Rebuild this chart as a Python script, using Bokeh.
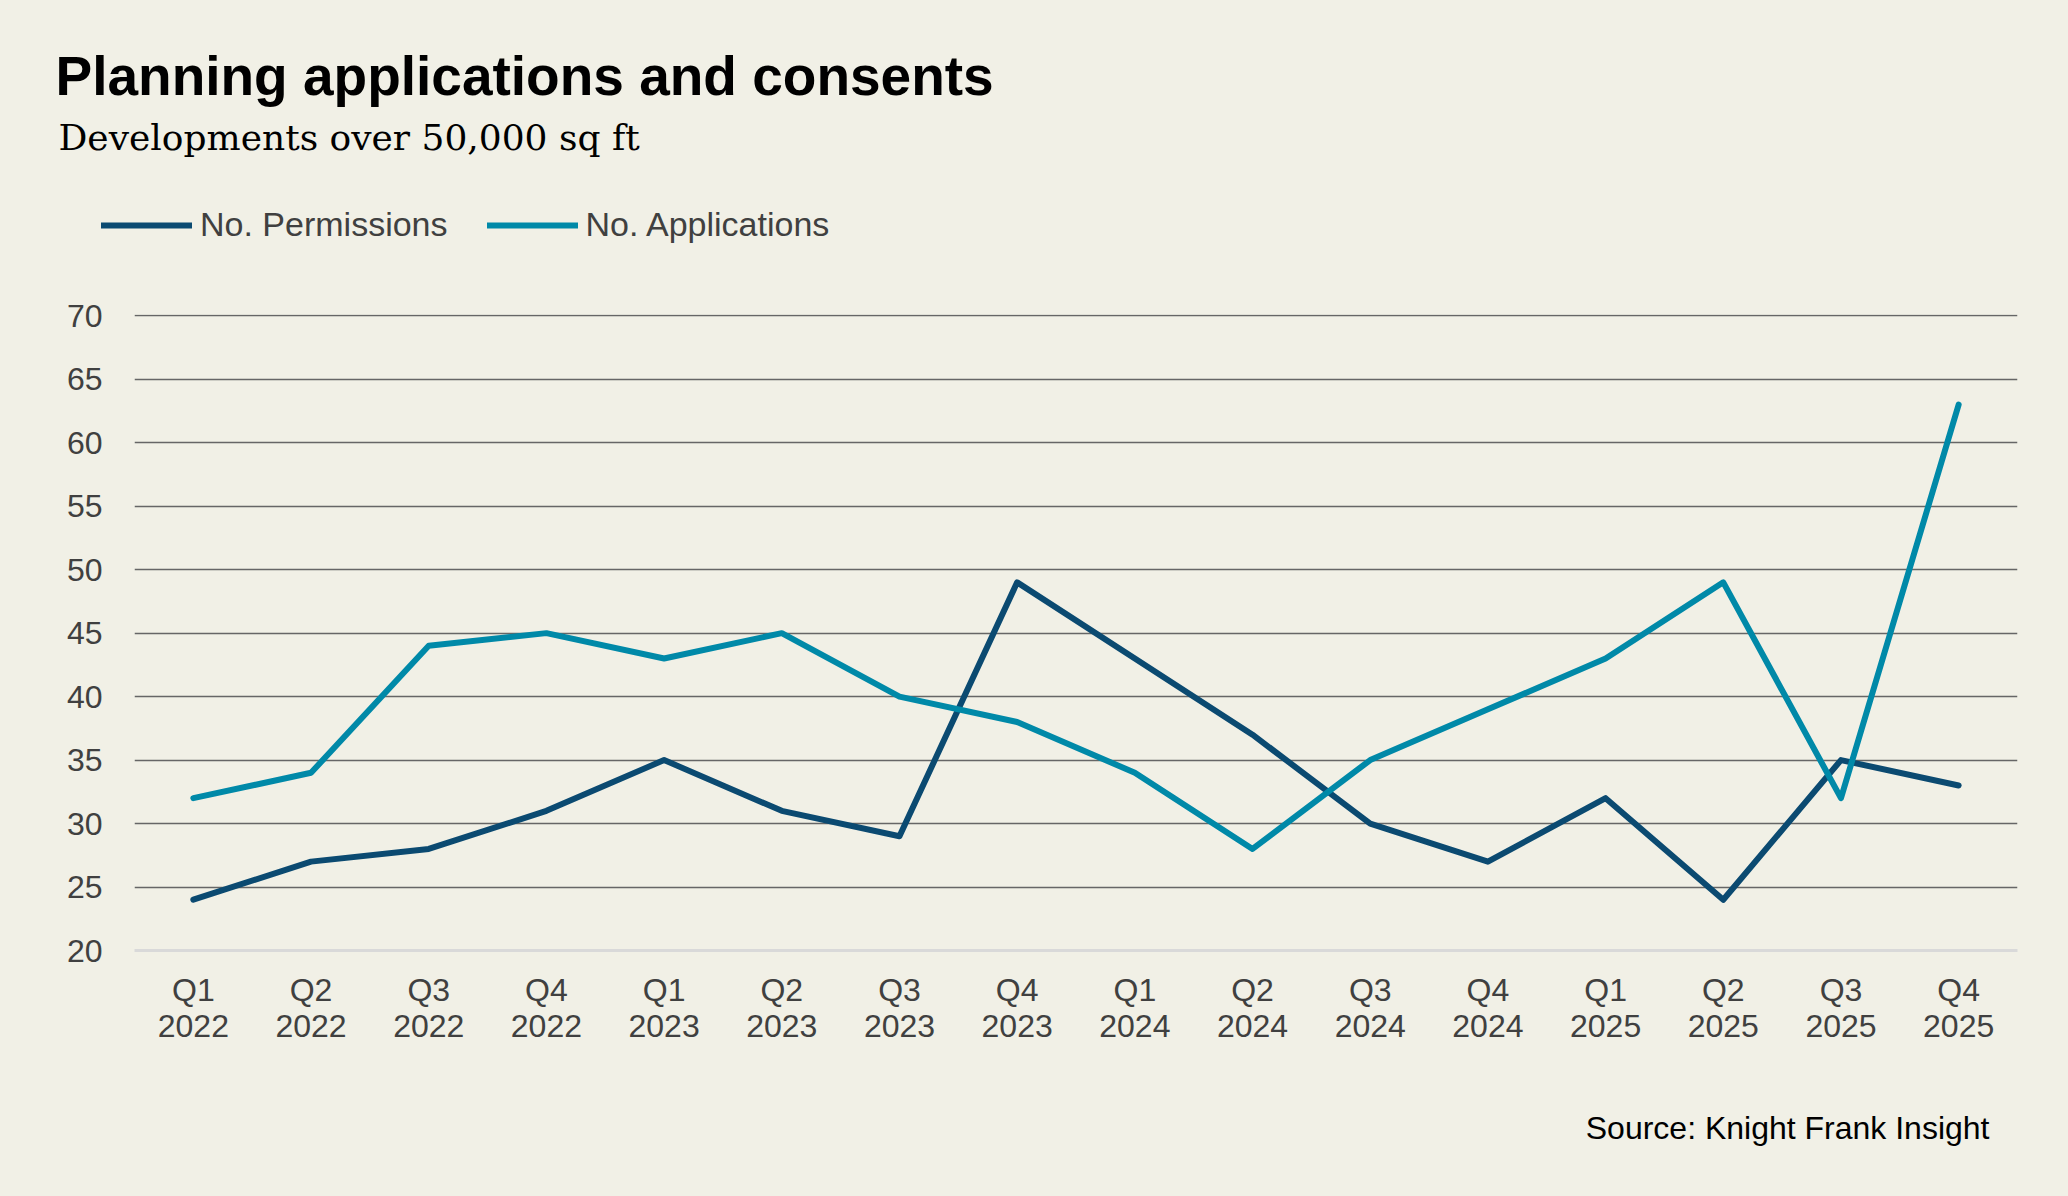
from bokeh.plotting import figure
from bokeh.models import (Range1d, FactorRange, FixedTicker, Legend,
                          LegendItem, ColumnDataSource, Label)
from bokeh.embed import file_html
from bokeh.resources import INLINE

# ---- data ----
quarters = ["Q1\n2022", "Q2\n2022", "Q3\n2022", "Q4\n2022",
            "Q1\n2023", "Q2\n2023", "Q3\n2023", "Q4\n2023",
            "Q1\n2024", "Q2\n2024", "Q3\n2024", "Q4\n2024",
            "Q1\n2025", "Q2\n2025", "Q3\n2025", "Q4\n2025"]
permissions = [24, 27, 28, 31, 35, 31, 29, 49, 43, 37, 30, 27, 32, 24, 35, 33]
applications = [32, 34, 44, 45, 43, 45, 40, 38, 34, 28, 35, 39, 43, 49, 32, 63]
y_ticks = [20, 25, 30, 35, 40, 45, 50, 55, 60, 65, 70]
series_names = ["No. Permissions", "No. Applications"]
title_text = "Planning applications and consents"
subtitle_text = "Developments over 50,000 sq ft"
source_text = "Source: Knight Frank Insight"

BG = "#F1F0E6"
C_PERM = "#0B4A71"
C_APP = "#0089A8"
TICK_COLOR = "#404040"
SANS = "Liberation Sans"
W = 2052
H_HEAD, H_MAIN, H_FOOT = 290, 790, 100
LW = 6


def blank(h):
    f = figure(width=W, height=h, x_range=Range1d(0, W), y_range=Range1d(h, 0),
               x_axis_type=None, y_axis_type=None,
               output_backend="svg", toolbar_location=None,
               min_border=0, background_fill_color=BG, border_fill_color=BG,
               outline_line_color=None)
    f.grid.visible = False
    return f


# ---- header: title, subtitle, legend ----
head = blank(H_HEAD)
head.add_layout(Label(x=55, y=75, text=title_text, text_font=SANS,
                      text_font_style="bold", text_font_size="55px",
                      text_color="#000000", text_baseline="alphabetic"))
head.add_layout(Label(x=58, y=137, text=subtitle_text, text_font="DejaVu Serif",
                      text_font_size="36px", text_color="#000000",
                      text_baseline="alphabetic"))
nan = float("nan")
lg1 = head.line(x=[nan], y=[nan], line_color=C_PERM, line_width=LW,
                line_cap="round")
lg2 = head.line(x=[nan], y=[nan], line_color=C_APP, line_width=LW,
                line_cap="round")
legend = Legend(items=[LegendItem(label=series_names[0], renderers=[lg1]),
                       LegendItem(label=series_names[1], renderers=[lg2])],
                orientation="horizontal", location=(101, H_HEAD - 244),
                padding=0, margin=0, spacing=39,
                glyph_width=91, glyph_height=34, label_height=34,
                label_standoff=8, label_text_font=SANS,
                label_text_font_size="34px", label_text_color=TICK_COLOR,
                border_line_color=None, background_fill_alpha=0)
head.add_layout(legend)

# ---- main chart ----
src = ColumnDataSource(dict(q=quarters, perm=permissions, app=applications))
p = figure(width=W, height=H_MAIN,
           x_range=FactorRange(factors=quarters, range_padding=0),
           y_range=Range1d(y_ticks[0], y_ticks[-1] + 0.1),
           output_backend="svg", toolbar_location=None,
           min_border_left=134, min_border_right=35,
           min_border_top=314 - H_HEAD, min_border_bottom=H_MAIN - (950 - H_HEAD),
           background_fill_alpha=0, border_fill_color=BG,
           outline_line_color=None)

p.xgrid.visible = False
p.ygrid.ticker = FixedTicker(ticks=y_ticks[1:])
p.ygrid.grid_line_color = "#666666"
p.ygrid.grid_line_width = 1.4

p.yaxis.ticker = FixedTicker(ticks=y_ticks)
p.yaxis.axis_line_color = None
p.yaxis.major_tick_line_color = None
p.yaxis.minor_tick_line_color = None
p.yaxis.major_label_standoff = 26
p.yaxis.major_label_text_font = SANS
p.yaxis.major_label_text_font_size = "32px"
p.yaxis.major_label_text_color = TICK_COLOR

p.xaxis.axis_line_color = "#D9D9D9"
p.xaxis.axis_line_width = 3
p.xaxis.major_tick_line_color = None
p.xaxis.minor_tick_line_color = None
p.xaxis.major_label_standoff = 15
p.xaxis.major_label_text_font = SANS
p.xaxis.major_label_text_font_size = "32px"
p.xaxis.major_label_text_line_height = 1.02
p.xaxis.major_label_text_color = TICK_COLOR

p.line(x="q", y="perm", source=src, line_color=C_PERM, line_width=LW,
       line_join="round", line_cap="round")
p.line(x="q", y="app", source=src, line_color=C_APP, line_width=LW,
       line_join="round", line_cap="round")

# ---- footer: source ----
foot = blank(H_FOOT)
foot.add_layout(Label(x=1989, y=1127 - (H_HEAD + H_MAIN), text=source_text,
                      text_font=SANS, text_font_size="32px", text_color="#000000",
                      text_align="right", text_baseline="alphabetic"))

html = file_html([head, p, foot], INLINE)
html = html.replace("</head>",
                    "<style>html, body {background-color: %s;}</style></head>" % BG, 1)
open("out.html", "w").write(html)
